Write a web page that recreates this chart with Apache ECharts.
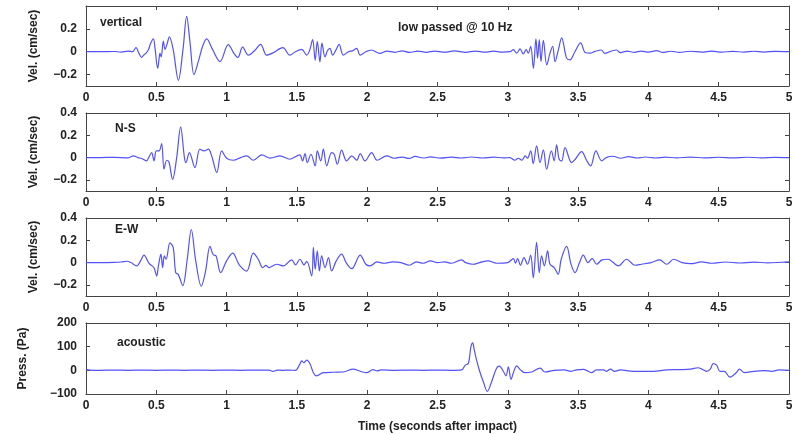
<!DOCTYPE html>
<html>
<head>
<meta charset="utf-8">
<script src="https://cdn.jsdelivr.net/npm/echarts@6/dist/echarts.min.js"></script>
<style>
  html, body { margin: 0; padding: 0; background: #fff; }
  #chart { width: 798px; height: 434px; }
</style>
</head>
<body>
<div id="chart"></div>
<script>
// seismometer traces, [time (s), value]
const verticalTrace = [[0,0],[0.1,0],[0.2,0.002],[0.25,-0.003],[0.3,0.005],[0.33,0],[0.356,0.035],[0.375,-0.01],[0.396,-0.05],[0.41,-0.03],[0.427,-0.012],[0.445,0.02],[0.46,0.075],[0.479,0.113],[0.49,0.04],[0.51,-0.145],[0.52,-0.06],[0.526,-0.015],[0.535,-0.045],[0.55,0.092],[0.562,0.02],[0.575,0.06],[0.593,0.13],[0.62,0.02],[0.657,-0.25],[0.69,0.02],[0.716,0.31],[0.74,0.08],[0.768,-0.2],[0.8,-0.08],[0.83,0.05],[0.858,0.113],[0.9,0.02],[0.953,-0.086],[1.012,0.062],[1.05,-0.01],[1.08,-0.05],[1.114,0.04],[1.155,-0.03],[1.2,0.01],[1.242,0.065],[1.285,-0.03],[1.33,-0.01],[1.4,0.035],[1.45,-0.03],[1.49,0],[1.534,0.02],[1.57,-0.03],[1.59,0.01],[1.612,0.105],[1.63,-0.075],[1.645,0.09],[1.664,-0.09],[1.678,0.075],[1.7,-0.045],[1.718,0.01],[1.735,0.03],[1.754,-0.03],[1.78,0.02],[1.8,0.065],[1.83,-0.03],[1.866,0],[1.9,0.01],[1.925,0.03],[1.95,-0.03],[1.99,0],[2.03,0.015],[2.09,-0.015],[2.14,0.005],[2.2,-0.005],[2.25,0.008],[2.3,-0.006],[2.36,0.006],[2.42,-0.005],[2.48,0.006],[2.55,-0.004],[2.62,0.007],[2.7,-0.005],[2.77,0.005],[2.84,-0.004],[2.9,0.006],[2.96,-0.003],[3.016,0],[3.039,0.018],[3.063,-0.012],[3.087,0.024],[3.11,-0.02],[3.13,0.018],[3.146,-0.012],[3.163,0.047],[3.182,-0.145],[3.2,0.113],[3.212,-0.056],[3.224,0.107],[3.236,-0.086],[3.253,0.1],[3.277,-0.116],[3.3,-0.012],[3.319,0.047],[3.336,-0.086],[3.36,0.018],[3.383,0.121],[3.418,-0.056],[3.442,-0.071],[3.477,0],[3.518,0.077],[3.55,-0.006],[3.585,-0.012],[3.62,0.003],[3.665,0.015],[3.69,-0.015],[3.73,0.003],[3.774,0.015],[3.8,-0.008],[3.85,0.005],[3.9,-0.005],[3.95,0.006],[4,-0.004],[4.06,0.01],[4.1,-0.006],[4.16,0.004],[4.22,-0.005],[4.3,0.004],[4.38,-0.004],[4.45,0.006],[4.52,-0.004],[4.6,0.003],[4.68,-0.004],[4.75,0.004],[4.82,-0.003],[4.9,0.003],[5,0]];

const northSouthTrace = [[0,0],[0.1,0],[0.2,0.002],[0.3,-0.002],[0.337,0.015],[0.37,0],[0.4,-0.01],[0.43,-0.03],[0.45,0.01],[0.467,0.045],[0.484,-0.03],[0.5,0.06],[0.52,0.06],[0.538,0.126],[0.555,-0.105],[0.574,-0.024],[0.59,-0.04],[0.616,-0.195],[0.645,0],[0.673,0.276],[0.7,0],[0.711,-0.045],[0.735,0.045],[0.775,-0.09],[0.81,0.075],[0.84,0.06],[0.87,0.075],[0.895,0.01],[0.93,-0.135],[0.965,0.06],[1,-0.006],[1.048,-0.024],[1.1,0],[1.143,0.015],[1.19,-0.024],[1.25,0.024],[1.31,-0.005],[1.38,0.015],[1.45,-0.015],[1.52,0.024],[1.54,-0.03],[1.558,0.036],[1.574,-0.045],[1.6,0.03],[1.63,-0.075],[1.645,0.06],[1.67,-0.03],[1.688,0.075],[1.712,-0.075],[1.747,0.045],[1.765,0.03],[1.788,-0.06],[1.818,0.066],[1.854,-0.03],[1.89,0.015],[1.925,-0.024],[1.95,0.036],[1.984,-0.03],[2.032,0.045],[2.07,-0.024],[2.14,0.015],[2.19,-0.006],[2.25,0.004],[2.3,-0.008],[2.34,0.01],[2.4,-0.004],[2.45,0.006],[2.52,-0.005],[2.6,0.004],[2.67,-0.004],[2.74,0.005],[2.82,-0.004],[2.9,0.004],[2.97,-0.003],[3.016,0],[3.05,-0.024],[3.075,-0.006],[3.1,-0.024],[3.124,0.015],[3.14,-0.006],[3.163,0.06],[3.181,-0.054],[3.205,0.105],[3.229,-0.045],[3.253,0.07],[3.276,-0.105],[3.31,0.06],[3.33,-0.03],[3.347,0.114],[3.365,-0.015],[3.383,-0.03],[3.407,0.09],[3.454,-0.045],[3.48,-0.015],[3.525,0.054],[3.56,-0.024],[3.589,-0.075],[3.627,0.06],[3.668,-0.03],[3.7,0],[3.75,0.012],[3.8,-0.006],[3.86,0.008],[3.92,-0.004],[3.98,0.005],[4.05,-0.004],[4.12,0.004],[4.2,-0.003],[4.3,0.004],[4.4,-0.003],[4.5,0.003],[4.6,-0.003],[4.7,0.003],[4.8,-0.002],[4.9,0.002],[5,0]];

const eastWestTrace = [[0,0],[0.1,0],[0.2,0.002],[0.25,0.005],[0.29,0.012],[0.32,0],[0.36,-0.03],[0.39,0.02],[0.412,0.067],[0.45,-0.01],[0.47,-0.03],[0.485,-0.05],[0.503,-0.12],[0.515,-0.03],[0.533,0.076],[0.545,-0.045],[0.557,0.06],[0.57,0.03],[0.597,0.176],[0.62,0.136],[0.638,-0.09],[0.656,-0.106],[0.688,-0.206],[0.72,0.03],[0.749,0.297],[0.78,0.02],[0.82,-0.212],[0.85,-0.08],[0.882,0.145],[0.905,0.07],[0.925,0.06],[0.958,-0.09],[1,0.015],[1.043,0.085],[1.09,-0.02],[1.143,-0.076],[1.19,0.085],[1.225,0.03],[1.257,-0.045],[1.28,-0.025],[1.3,-0.045],[1.356,-0.015],[1.404,-0.03],[1.463,0.024],[1.49,-0.02],[1.522,0.03],[1.55,-0.02],[1.57,0.01],[1.605,-0.12],[1.617,0.136],[1.63,-0.06],[1.645,0.106],[1.66,-0.075],[1.676,0.06],[1.7,-0.045],[1.725,0.045],[1.747,-0.075],[1.78,0.015],[1.818,0.076],[1.85,0],[1.89,-0.055],[1.95,0.067],[1.99,-0.015],[2.02,-0.03],[2.07,0.006],[2.12,-0.006],[2.18,0.006],[2.24,0],[2.3,-0.024],[2.35,0.006],[2.4,-0.006],[2.45,0.015],[2.5,0],[2.55,0.006],[2.6,-0.006],[2.67,0.024],[2.7,0],[2.754,-0.015],[2.8,0],[2.86,0.015],[2.92,-0.006],[3,0],[3.04,0.036],[3.055,-0.006],[3.07,0.036],[3.09,-0.024],[3.115,0.045],[3.14,-0.015],[3.163,0.067],[3.181,-0.136],[3.205,0.182],[3.224,-0.09],[3.24,0.06],[3.26,-0.03],[3.283,0.106],[3.3,-0.015],[3.33,-0.045],[3.358,-0.106],[3.38,0.03],[3.418,0.145],[3.45,-0.015],[3.478,-0.09],[3.51,0],[3.537,0.067],[3.57,0],[3.6,0.036],[3.632,-0.015],[3.67,0.024],[3.715,0.03],[3.75,0],[3.786,-0.03],[3.845,0.03],[3.905,-0.024],[3.95,-0.015],[4.02,0],[4.08,0.024],[4.13,-0.015],[4.18,0.03],[4.24,0],[4.3,-0.01],[4.38,0.006],[4.45,-0.006],[4.55,0.005],[4.65,-0.004],[4.75,0.004],[4.85,-0.003],[4.95,0.003],[5,0.006]];

const acousticTrace = [[0,3],[0.03,1],[0.1,0],[0.2,1],[0.3,0],[0.4,1],[0.5,0],[0.6,1],[0.7,0],[0.8,1],[0.9,0],[1,1],[1.1,0],[1.2,1],[1.3,1],[1.33,-4],[1.36,1],[1.4,0],[1.45,1],[1.49,0],[1.52,25],[1.535,40],[1.55,32],[1.569,43],[1.593,28],[1.617,-10],[1.64,-23],[1.688,-10],[1.76,-8],[1.83,-7],[1.9,5],[1.95,-4],[1.996,-10],[2.04,3],[2.07,-2],[2.1,2],[2.2,0],[2.3,1],[2.4,0],[2.5,1],[2.6,0],[2.672,2],[2.696,21],[2.72,30],[2.737,97],[2.75,116],[2.76,91],[2.774,53],[2.8,-4],[2.826,-48],[2.854,-89],[2.885,-48],[2.92,9],[2.94,18],[2.968,-4],[2.987,-23],[3.004,15],[3.023,-38],[3.04,-10],[3.063,19],[3.09,2],[3.12,-10],[3.17,-7],[3.23,9],[3.265,-7],[3.33,0],[3.4,2],[3.45,-4],[3.489,2],[3.54,4],[3.596,-10],[3.63,2],[3.68,2],[3.7,-4],[3.73,5],[3.76,-4],[3.8,2],[3.893,-4],[3.99,-4],[4.035,-4],[4.13,2],[4.225,3],[4.3,5],[4.354,11],[4.38,5],[4.414,-4],[4.44,5],[4.461,28],[4.485,22],[4.509,-4],[4.54,-4],[4.579,-29],[4.6,-23],[4.625,-10],[4.648,5],[4.684,-10],[4.75,-4],[4.82,-1],[4.88,-4],[4.93,2],[5,0]];

const traces = [verticalTrace, northSouthTrace, eastWestTrace, acousticTrace];
const panelLabels = ['vertical', 'N-S', 'E-W', 'acoustic'];
const yAxisNames = ['Vel. (cm/sec)', 'Vel. (cm/sec)', 'Vel. (cm/sec)', 'Press. (Pa)'];
const yTickValues = [[-0.2, 0, 0.2], [-0.2, 0, 0.2, 0.4], [-0.2, 0, 0.2, 0.4], [-100, 0, 100, 200]];
const yRanges = [[-0.3, 0.4], [-0.3, 0.4], [-0.3, 0.4], [-100, 200]];
const xLabel = 'Time (seconds after impact)';
const note = 'low passed @ 10 Hz';

const chart = echarts.init(document.getElementById('chart'));

const font = 'Liberation Sans, Arial, Helvetica, sans-serif';
const lineBlue = '#5252fa';
const frame = '#444';

const tops = [6, 113, 218, 323];
const heights = [80, 78, 78, 77];
const nameGaps = [46, 46, 46, 57];

let grid = [], xAxis = [], yAxis = [], series = [];

traces.forEach(function (trace, i) {
  grid.push({left: 86, right: 9, top: tops[i], height: heights[i]});

  let xBase = {
    gridIndex: i, type: 'value', min: 0, max: 5, interval: 0.5,
    axisLine: {show: true, onZero: false, lineStyle: {color: frame, width: 1}},
    axisTick: {show: true, inside: true, length: 4, lineStyle: {color: frame}},
    splitLine: {show: false}
  };
  xAxis.push(Object.assign({}, xBase, {
    position: 'bottom',
    axisLabel: {margin: 6, color: '#222', fontSize: 12, fontWeight: 'bold', fontFamily: font},
    name: i === 3 ? xLabel : '',
    nameLocation: 'middle',
    nameGap: 27,
    nameTextStyle: {color: '#222', fontSize: 12, fontWeight: 'bold', fontFamily: font}
  }));
  xAxis.push(Object.assign({}, xBase, {position: 'top', axisLabel: {show: false}}));

  let yBase = {
    gridIndex: i, type: 'value', min: yRanges[i][0], max: yRanges[i][1],
    axisLine: {show: true, onZero: false, lineStyle: {color: frame, width: 1}},
    axisTick: {show: true, inside: true, length: 4, lineStyle: {color: frame}, customValues: yTickValues[i]},
    splitLine: {show: false}
  };
  yAxis.push(Object.assign({}, yBase, {
    position: 'left',
    axisLabel: {
      customValues: yTickValues[i], margin: 9, color: '#222', fontSize: 12, fontWeight: 'bold', fontFamily: font,
      formatter: function (v) { return String(v).replace('-', '\u2212'); }
    },
    name: yAxisNames[i],
    nameLocation: 'middle',
    nameGap: nameGaps[i],
    nameRotate: 90,
    nameTextStyle: {color: '#222', fontSize: 12, fontWeight: 'bold', fontFamily: font}
  }));
  yAxis.push(Object.assign({}, yBase, {position: 'right', axisLabel: {show: false}}));

  series.push({
    type: 'line',
    xAxisIndex: 2 * i,
    yAxisIndex: 2 * i,
    data: trace,
    smooth: 0.35,
    showSymbol: false,
    lineStyle: {color: lineBlue, width: 1.2},
    silent: true
  });
});

const labelPos = [[100, 17], [115, 123], [115, 224], [117, 337]];
let graphic = panelLabels.map(function (t, i) {
  return {
    type: 'text', left: labelPos[i][0], top: labelPos[i][1],
    style: {text: t, fill: '#222', font: 'bold 12px ' + font}
  };
});
graphic.push({type: 'text', left: 398, top: 22, style: {text: note, fill: '#222', font: 'bold 12px ' + font}});

chart.setOption({
  backgroundColor: '#fff',
  animation: false,
  grid: grid,
  xAxis: xAxis,
  yAxis: yAxis,
  series: series,
  graphic: graphic
});
</script>
</body>
</html>
